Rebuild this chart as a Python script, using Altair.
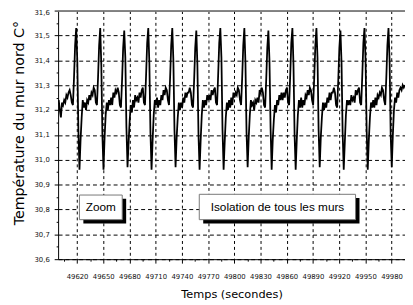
import altair as alt
import pandas as pd

# ---- sampled time (s) and wall temperature (deg C) ----
t_start = [49599.00, 49600.25, 49601.50, 49602.75, 49604.00, 49605.25, 49606.50, 49607.75,
           49609.00, 49610.25, 49611.50, 49612.75, 49614.00, 49615.25, 49616.50, 49617.75, 49619.00]
T_start = [31.24, 31.20, 31.17, 31.23, 31.22, 31.24, 31.23, 31.26, 31.25, 31.27, 31.28, 31.26,
           31.23, 31.22, 31.33, 31.46, 31.53]

t_rows = [
    [49620.25, 49621.5, 49622.75, 49624, 49625.25, 49626.5, 49627.75, 49629, 49630.25, 49631.5, 49632.75, 49634, 49635.25, 49636.5, 49637.75, 49639, 49640.25, 49641.5, 49642.75, 49644, 49645.25, 49646.5],
    [49647.75, 49649, 49650.25, 49651.5, 49652.75, 49654, 49655.25, 49656.5, 49657.75, 49659, 49660.25, 49661.5, 49662.75, 49664, 49665.25, 49666.5, 49667.75, 49669, 49670.25, 49671.5, 49672.75, 49674],
    [49675.25, 49676.5, 49677.75, 49679, 49680.25, 49681.5, 49682.75, 49684, 49685.25, 49686.5, 49687.75, 49689, 49690.25, 49691.5, 49692.75, 49694, 49695.25, 49696.5, 49697.75, 49699, 49700.25, 49701.5],
    [49702.75, 49704, 49705.25, 49706.5, 49707.75, 49709, 49710.25, 49711.5, 49712.75, 49714, 49715.25, 49716.5, 49717.75, 49719, 49720.25, 49721.5, 49722.75, 49724, 49725.25, 49726.5, 49727.75, 49729],
    [49730.25, 49731.5, 49732.75, 49734, 49735.25, 49736.5, 49737.75, 49739, 49740.25, 49741.5, 49742.75, 49744, 49745.25, 49746.5, 49747.75, 49749, 49750.25, 49751.5, 49752.75, 49754, 49755.25, 49756.5],
    [49757.75, 49759, 49760.25, 49761.5, 49762.75, 49764, 49765.25, 49766.5, 49767.75, 49769, 49770.25, 49771.5, 49772.75, 49774, 49775.25, 49776.5, 49777.75, 49779, 49780.25, 49781.5, 49782.75, 49784],
    [49785.25, 49786.5, 49787.75, 49789, 49790.25, 49791.5, 49792.75, 49794, 49795.25, 49796.5, 49797.75, 49799, 49800.25, 49801.5, 49802.75, 49804, 49805.25, 49806.5, 49807.75, 49809, 49810.25, 49811.5],
    [49812.75, 49814, 49815.25, 49816.5, 49817.75, 49819, 49820.25, 49821.5, 49822.75, 49824, 49825.25, 49826.5, 49827.75, 49829, 49830.25, 49831.5, 49832.75, 49834, 49835.25, 49836.5, 49837.75, 49839],
    [49840.25, 49841.5, 49842.75, 49844, 49845.25, 49846.5, 49847.75, 49849, 49850.25, 49851.5, 49852.75, 49854, 49855.25, 49856.5, 49857.75, 49859, 49860.25, 49861.5, 49862.75, 49864, 49865.25, 49866.5],
    [49867.75, 49869, 49870.25, 49871.5, 49872.75, 49874, 49875.25, 49876.5, 49877.75, 49879, 49880.25, 49881.5, 49882.75, 49884, 49885.25, 49886.5, 49887.75, 49889, 49890.25, 49891.5, 49892.75, 49894],
    [49895.25, 49896.5, 49897.75, 49899, 49900.25, 49901.5, 49902.75, 49904, 49905.25, 49906.5, 49907.75, 49909, 49910.25, 49911.5, 49912.75, 49914, 49915.25, 49916.5, 49917.75, 49919, 49920.25, 49921.5],
    [49922.75, 49924, 49925.25, 49926.5, 49927.75, 49929, 49930.25, 49931.5, 49932.75, 49934, 49935.25, 49936.5, 49937.75, 49939, 49940.25, 49941.5, 49942.75, 49944, 49945.25, 49946.5, 49947.75, 49949],
    [49950.25, 49951.5, 49952.75, 49954, 49955.25, 49956.5, 49957.75, 49959, 49960.25, 49961.5, 49962.75, 49964, 49965.25, 49966.5, 49967.75, 49969, 49970.25, 49971.5, 49972.75, 49974, 49975.25, 49976.5],
]
T_rows = [
    [31.40, 31.12, 30.96, 31.08, 31.17, 31.24, 31.21, 31.23, 31.20, 31.24, 31.23, 31.26, 31.24, 31.27, 31.26, 31.29, 31.28, 31.23, 31.22, 31.33, 31.46, 31.53],
    [31.38, 31.10, 30.96, 31.09, 31.18, 31.23, 31.20, 31.24, 31.22, 31.25, 31.22, 31.27, 31.25, 31.28, 31.27, 31.29, 31.27, 31.22, 31.21, 31.32, 31.45, 31.52],
    [31.41, 31.13, 30.97, 31.07, 31.16, 31.22, 31.19, 31.24, 31.21, 31.26, 31.24, 31.25, 31.23, 31.27, 31.25, 31.28, 31.29, 31.23, 31.22, 31.34, 31.47, 31.53],
    [31.39, 31.11, 30.96, 31.08, 31.18, 31.24, 31.22, 31.25, 31.21, 31.24, 31.22, 31.26, 31.24, 31.28, 31.26, 31.29, 31.28, 31.24, 31.22, 31.33, 31.46, 31.53],
    [31.40, 31.12, 30.97, 31.09, 31.17, 31.23, 31.20, 31.23, 31.21, 31.25, 31.23, 31.27, 31.25, 31.27, 31.27, 31.29, 31.27, 31.22, 31.21, 31.32, 31.45, 31.52],
    [31.38, 31.10, 30.96, 31.08, 31.18, 31.24, 31.21, 31.24, 31.22, 31.26, 31.24, 31.26, 31.24, 31.28, 31.26, 31.28, 31.29, 31.23, 31.22, 31.34, 31.47, 31.53],
    [31.41, 31.12, 30.96, 31.07, 31.17, 31.23, 31.20, 31.24, 31.21, 31.25, 31.22, 31.27, 31.25, 31.27, 31.26, 31.29, 31.28, 31.24, 31.22, 31.33, 31.46, 31.53],
    [31.39, 31.11, 30.97, 31.09, 31.18, 31.24, 31.22, 31.23, 31.20, 31.24, 31.23, 31.25, 31.23, 31.28, 31.27, 31.29, 31.27, 31.22, 31.21, 31.32, 31.45, 31.52],
    [31.40, 31.13, 30.96, 31.08, 31.16, 31.22, 31.19, 31.24, 31.22, 31.26, 31.24, 31.27, 31.24, 31.27, 31.25, 31.28, 31.29, 31.23, 31.22, 31.34, 31.47, 31.53],
    [31.38, 31.10, 30.96, 31.08, 31.18, 31.24, 31.21, 31.25, 31.21, 31.24, 31.22, 31.26, 31.25, 31.28, 31.26, 31.29, 31.28, 31.24, 31.22, 31.33, 31.46, 31.53],
    [31.41, 31.12, 30.97, 31.09, 31.17, 31.23, 31.20, 31.23, 31.21, 31.25, 31.23, 31.27, 31.24, 31.27, 31.27, 31.29, 31.27, 31.22, 31.21, 31.32, 31.45, 31.52],
    [31.39, 31.11, 30.96, 31.07, 31.18, 31.24, 31.22, 31.24, 31.22, 31.26, 31.24, 31.25, 31.23, 31.28, 31.26, 31.28, 31.29, 31.23, 31.22, 31.34, 31.47, 31.53],
    [31.40, 31.12, 30.96, 31.08, 31.17, 31.23, 31.21, 31.24, 31.21, 31.25, 31.22, 31.26, 31.25, 31.27, 31.26, 31.29, 31.28, 31.24, 31.22, 31.33, 31.46, 31.53],
]
t_end = [49977.75, 49979, 49980.25, 49981.5, 49982.75, 49984, 49985.25, 49986.5, 49987.75,
         49989, 49990.25, 49991.5, 49992.75, 49994, 49995.25]
T_end = [31.40, 31.10, 30.97, 31.10, 31.20, 31.25, 31.23, 31.27, 31.25, 31.28, 31.29, 31.28,
         31.30, 31.29, 31.30]

# ---- axes ----
x_domain = [49598.3, 49995.4]
y_domain = [30.6, 31.6]
x_ticks = [49605, 49620, 49635, 49650, 49665, 49680, 49695, 49710, 49725, 49740, 49755, 49770,
           49785, 49800, 49815, 49830, 49845, 49860, 49875, 49890, 49905, 49920, 49935, 49950,
           49965, 49980, 49995]
y_ticks = [30.6, 30.65, 30.7, 30.75, 30.8, 30.85, 30.9, 30.95, 31.0, 31.05, 31.1, 31.15, 31.2,
           31.25, 31.3, 31.35, 31.4, 31.45, 31.5, 31.55, 31.6]

# ---- annotation boxes ----
box_label = ["Zoom", "Isolation de tous les murs"]
box_x0 = [49622.7, 49759.9]
box_x1 = [49671.7, 49938.8]
box_y0 = [30.759, 30.759]
box_y1 = [30.858, 30.861]
shadow_x0 = [49627.2, 49764.4]
shadow_x1 = [49676.2, 49943.3]
shadow_y0 = [30.744, 30.744]
shadow_y1 = [30.843, 30.846]
label_x = [49647.2, 49849.4]
label_y = [30.81, 30.81]

times = list(t_start)
temps = list(T_start)
for tr, vr in zip(t_rows, T_rows):
    times += tr
    temps += vr
times += t_end
temps += T_end

df = pd.DataFrame({"t": times, "T": temps})
boxes = pd.DataFrame({"label": box_label, "x0": box_x0, "x1": box_x1, "y0": box_y0, "y1": box_y1,
                      "sx0": shadow_x0, "sx1": shadow_x1, "sy0": shadow_y0, "sy1": shadow_y1,
                      "lx": label_x, "ly": label_y})

xmajor = "(datum.value - 49620) % 30 == 0"
ymajor = "abs(datum.value*10 - round(datum.value*10)) < 0.001"

xscale = alt.Scale(domain=x_domain, nice=False, zero=False)
yscale = alt.Scale(domain=y_domain, nice=False, zero=False)

xaxis = alt.Axis(
    values=x_ticks, format="d",
    labelExpr=f"{xmajor} ? datum.label : ''",
    tickSize=4,
    tickDash={"condition": {"test": xmajor, "value": [10, 0]}, "value": [2, 10]},
    gridOpacity={"condition": {"test": xmajor, "value": 1}, "value": 0},
    grid=True, gridColor="#000", gridDash=[3, 3], gridWidth=1,
    domainColor="#000", tickColor="#000",
    labelFont="DejaVu Sans", labelFontSize=7, labelColor="#111", labelPadding=10,
    labelFlush=False, labelOverlap=False,
    title="Temps (secondes)", titleFont="DejaVu Sans", titleFontSize=11.5,
    titleFontWeight="normal", titleColor="#000", titleY=36, titleBaseline="middle",
)
yaxis = alt.Axis(
    values=y_ticks,
    labelExpr=f"{ymajor} ? replace(format(datum.value, '.1f'), '.', ',') : ''",
    tickSize=4,
    tickDash={"condition": {"test": ymajor, "value": [10, 0]}, "value": [2, 10]},
    gridOpacity={"condition": {"test": f"{ymajor} && datum.value < 31.59", "value": 1}, "value": 0},
    labelOffset={"condition": {"test": "datum.value > 31.59", "value": 2}, "value": 0},
    labelBaseline="middle",
    grid=True, gridColor="#000", gridDash=[4, 3], gridWidth=1,
    domainColor="#000", tickColor="#000",
    labelFont="DejaVu Sans", labelFontSize=7, labelColor="#111", labelPadding=5,
    labelFlush=False, labelOverlap=False,
    title="Température du mur nord C°", titleFont="DejaVu Sans", titleFontSize=14.5,
    titleFontWeight="normal", titleColor="#000",
    titleX=-39, titleY=114, titleAngle=270, titleAlign="center", titleBaseline="middle",
)

line = alt.Chart(df).mark_line(color="#000", strokeWidth=1.8, clip=True).encode(
    x=alt.X("t:Q", scale=xscale, axis=xaxis),
    y=alt.Y("T:Q", scale=yscale, axis=yaxis),
)
top = alt.Chart(df).mark_rule(color="#888", strokeWidth=1).encode(
    y=alt.YDatum(31.6, axis=yaxis, scale=yscale))

shadow = alt.Chart(boxes).mark_rect(color="#000").encode(
    x=alt.X("sx0:Q", axis=xaxis, scale=xscale), x2="sx1:Q",
    y=alt.Y("sy0:Q", axis=yaxis, scale=yscale), y2="sy1:Q")
box = alt.Chart(boxes).mark_rect(fill="#fff", stroke="#777", strokeWidth=1).encode(
    x=alt.X("x0:Q", axis=xaxis, scale=xscale), x2="x1:Q",
    y=alt.Y("y0:Q", axis=yaxis, scale=yscale), y2="y1:Q")
text = alt.Chart(boxes).mark_text(font="Liberation Sans", fontSize=12, color="#000",
                                  align="center", baseline="middle").encode(
    x=alt.X("lx:Q", axis=xaxis, scale=xscale), y=alt.Y("ly:Q", axis=yaxis, scale=yscale),
    text="label:N")

chart = alt.layer(line, top, shadow, box, text).properties(
    width=353, height=253,
    padding={"left": 51, "top": 0, "right": 0, "bottom": 44},
    autosize=alt.AutoSizeParams(type="none"),
).configure_view(stroke=None)

chart.save("out.html", embed_options={"renderer": "svg", "actions": False})
